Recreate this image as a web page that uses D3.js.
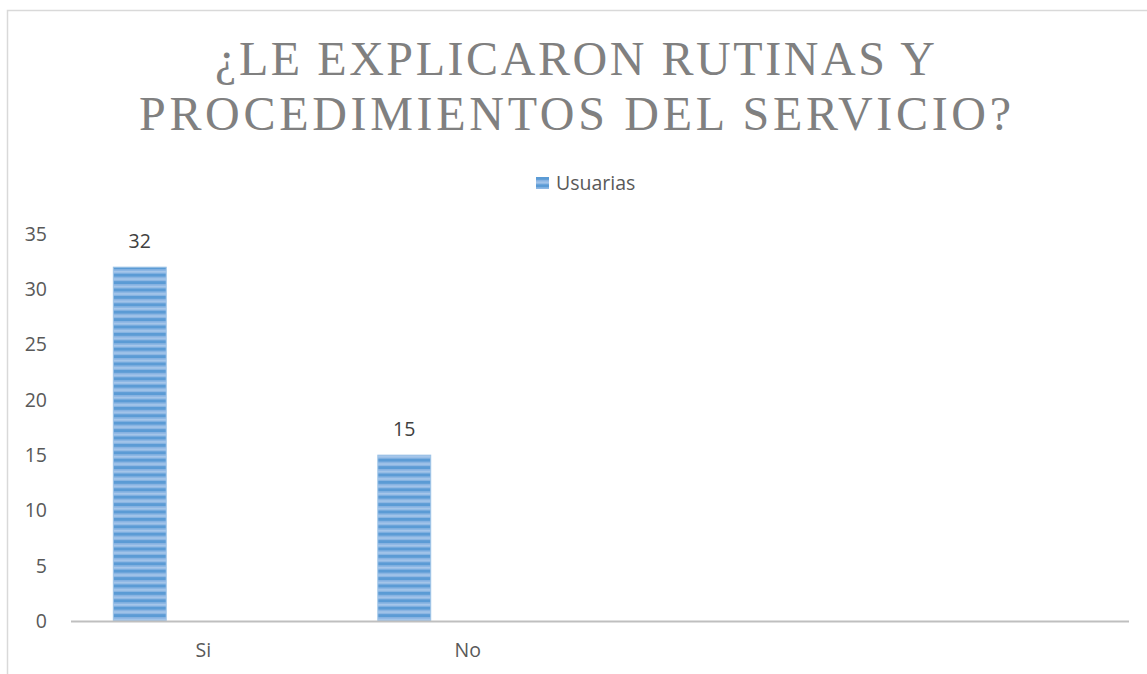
<!DOCTYPE html>
<html>
<head>
<meta charset="utf-8">
<script src="https://cdn.jsdelivr.net/npm/d3@7"></script>
<style>
  body { margin: 0; background: #fff; }
  #chart { width: 1147px; height: 674px; }
</style>
</head>
<body>
<div id="chart"></div>
<script>
// data
const categories = ["Si", "No", "", ""];
const seriesName = "Usuarias";
const values = [32, 15, null, null];
const yTicks = [0, 5, 10, 15, 20, 25, 30, 35];
const titleLines = ["¿LE EXPLICARON RUTINAS Y", "PROCEDIMIENTOS DEL SERVICIO?"];

function createChart() {
  const container = document.getElementById('chart');
  const W = 1147, H = 674;
  const plot = { left: 71, right: 1129, top: 234, bottom: 621 };
  const font = "'Open Sans', sans-serif";
  const fontSize = "19.5px";

  const svg = d3.select(container)
    .append("svg")
    .attr("width", W)
    .attr("height", H);

  // striped fill like the office "horizontal lines" bar style
  const defs = svg.append("defs");
  const pat = defs.append("pattern")
    .attr("id", "stripes")
    .attr("patternUnits", "userSpaceOnUse")
    .attr("width", 8)
    .attr("height", 7.4);
  pat.append("rect").attr("width", 8).attr("height", 7.4).attr("fill", "#a6c6ea");
  pat.append("rect").attr("y", 0).attr("width", 8).attr("height", 3.2).attr("fill", "#5b9bd5");
  pat.append("rect").attr("y", 3.2).attr("width", 8).attr("height", 1.2).attr("fill", "#86b3e2");
  pat.append("rect").attr("y", 6.2).attr("width", 8).attr("height", 1.2).attr("fill", "#86b3e2");

  // chart area border (top and left visible)
  svg.append("path")
    .attr("d", `M7.5,${H} V10.5 H${W}`)
    .attr("fill", "none")
    .attr("stroke", "#d9d9d9")
    .attr("stroke-width", 1.5);

  // title
  const title = svg.append("text")
    .attr("text-anchor", "middle")
    .attr("font-family", "'Liberation Serif', 'DejaVu Serif', serif")
    .attr("font-size", "48px")
    .attr("fill", "#808080");
  const titleWidths = [720, 872];
  titleLines.forEach((t, i) => {
    title.append("tspan")
      .attr("x", 575)
      .attr("y", 75 + i * 55)
      .attr("textLength", titleWidths[i])
      .attr("lengthAdjust", "spacing")
      .text(t);
  });

  // scales
  const x0 = d3.scaleBand()
    .domain(d3.range(categories.length))
    .range([plot.left, plot.right])
    .paddingInner(0)
    .paddingOuter(0);

  const x1 = d3.scaleBand()
    .domain([seriesName])
    .range([0, x0.bandwidth()])
    .paddingOuter(2)
    .align(0.2);

  const y = d3.scaleLinear()
    .domain([0, 35])
    .range([plot.bottom, plot.top]);

  // y tick labels
  svg.append("g")
    .selectAll("text")
    .data(yTicks)
    .enter()
    .append("text")
    .attr("x", 47)
    .attr("y", d => y(d))
    .attr("dy", "0.35em")
    .attr("text-anchor", "end")
    .attr("font-family", font)
    .attr("font-size", fontSize)
    .attr("fill", "#595959")
    .text(d => d);

  // bars
  const barData = values.map((v, i) => ({ i, v })).filter(d => d.v != null);
  svg.append("g")
    .selectAll("rect")
    .data(barData)
    .enter()
    .append("rect")
    .attr("x", d => x0(d.i) + x1(seriesName))
    .attr("y", d => y(d.v))
    .attr("width", x1.bandwidth())
    .attr("height", d => y(0) - y(d.v))
    .attr("fill", "url(#stripes)")
    .attr("stroke", "#9dc3e6")
    .attr("stroke-width", 1);

  // value labels
  svg.append("g")
    .selectAll("text")
    .data(barData)
    .enter()
    .append("text")
    .attr("x", d => x0(d.i) + x1(seriesName) + x1.bandwidth() / 2)
    .attr("y", d => y(d.v) - 26)
    .attr("dy", "0.35em")
    .attr("text-anchor", "middle")
    .attr("font-family", font)
    .attr("font-size", fontSize)
    .attr("fill", "#404040")
    .text(d => d.v);

  // x axis line
  svg.append("line")
    .attr("x1", plot.left)
    .attr("x2", plot.right)
    .attr("y1", y(0) + 0.5)
    .attr("y2", y(0) + 0.5)
    .attr("stroke", "#bfbfbf")
    .attr("stroke-width", 2);

  // category labels
  svg.append("g")
    .selectAll("text")
    .data(categories)
    .enter()
    .append("text")
    .attr("x", (d, i) => x0(i) + x0.bandwidth() / 2)
    .attr("y", 650)
    .attr("dy", "0.35em")
    .attr("text-anchor", "middle")
    .attr("font-family", font)
    .attr("font-size", fontSize)
    .attr("fill", "#595959")
    .text(d => d);

  // legend
  const legend = svg.append("g").attr("transform", "translate(536,177)");
  legend.append("rect")
    .attr("width", 13)
    .attr("height", 12)
    .attr("fill", "url(#stripes)");
  legend.append("text")
    .attr("x", 20)
    .attr("y", 6)
    .attr("dy", "0.35em")
    .attr("font-family", font)
    .attr("font-size", fontSize)
    .attr("fill", "#595959")
    .text(seriesName);
}

createChart();
</script>
</body>
</html>
